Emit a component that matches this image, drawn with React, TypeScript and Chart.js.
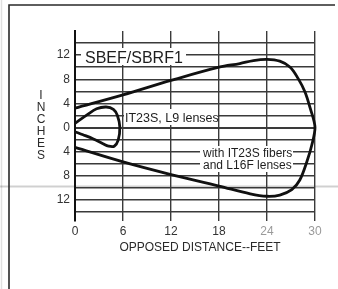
import React, { useEffect, useRef } from 'react';
import { Chart, registerables } from 'chart.js';

Chart.register(...registerables);

// Tick values
const distanceTicks = [0, 6, 12, 18, 24, 30];
const inchGrid = [-14, -12, -10, -8, -6, -4, -2, 0, 2, 4, 6, 8, 10, 12, 14];
const inchLabelled = [-12, -8, -4, 0, 4, 8, 12];

// Texts
const chartTitle = 'SBEF/SBRF1';
const xTitle = 'OPPOSED DISTANCE--FEET';
const yTitle = 'INCHES';
const innerLabel = 'IT23S, L9 lenses';
const outerLabel = ['with IT23S fibers', 'and L16F lenses'];

// Series: "with IT23S fibers and L16F lenses" (feet, inches)
const outerX = [0, 6, 12, 18, 20.6, 22.3, 24, 25.6, 26.9, 27.9, 28.75, 29.4, 30, 29.6, 29.0, 28.1, 27.1, 25.6, 24, 21.9, 18, 12, 6, 0];
const outerY = [3.2, 5.4, 7.8, 10.0, 10.6, 11.1, 11.3, 11.0, 10.0, 8.1, 5.9, 3.2, 0, -2.9, -5.6, -8.7, -10.3, -11.2, -11.4, -11.0, -9.7, -7.8, -5.7, -3.3];

// Series: "IT23S, L9 lenses"
const innerX = [0, 1.5, 2.7, 3.9, 4.8, 5.3, 5.6, 5.4, 4.9, 4.2, 3.5, 2.3, 1.0, 0];
const innerY = [0.7, 2.1, 3.1, 3.4, 3.0, 2.0, 0.1, -2.1, -3.1, -3.1, -2.7, -1.9, -1.2, -0.7];

const FONT = '"Liberation Sans", Arial, Helvetica, sans-serif';

export default function App() {
  const ref = useRef<HTMLCanvasElement | null>(null);

  useEffect(() => {
    const canvas = ref.current;
    if (!canvas) return;

    const decor = {
      id: 'decor',
      beforeDraw(chart: any) {
        const ctx = chart.ctx;
        ctx.save();
        ctx.fillStyle = '#ffffff';
        ctx.fillRect(0, 0, chart.width, chart.height);
        // faint scan band
        ctx.strokeStyle = 'rgba(150,150,150,0.45)';
        ctx.lineWidth = 2;
        ctx.beginPath();
        ctx.moveTo(0, 186.5);
        ctx.lineTo(chart.width, 186.5);
        ctx.stroke();
        ctx.strokeStyle = 'rgba(0,0,0,0.12)';
        ctx.lineWidth = 1.5;
        ctx.beginPath();
        ctx.moveTo(1.5, 0);
        ctx.lineTo(1.5, chart.height);
        ctx.stroke();
        // frame
        ctx.strokeStyle = '#2a2a2a';
        ctx.lineWidth = 1.6;
        ctx.beginPath();
        ctx.moveTo(9, chart.height);
        ctx.lineTo(9, 5);
        ctx.lineTo(335, 5);
        ctx.stroke();
        ctx.restore();
      },
      beforeDatasetsDraw(chart: any) {
        const ctx = chart.ctx;
        ctx.save();
        ctx.fillStyle = '#ffffff';
        ctx.fillRect(81, 48, 105, 17);
        ctx.fillRect(124, 109, 94, 16);
        ctx.fillRect(200, 146, 93, 26);
        ctx.fillStyle = '#1e1e1e';
        ctx.textBaseline = 'middle';
        ctx.textAlign = 'left';
        ctx.font = `16px ${FONT}`;
        ctx.fillText(chartTitle, 85, 58.5);
        ctx.font = `12.5px ${FONT}`;
        ctx.fillText(innerLabel, 125, 119);
        ctx.font = `12px ${FONT}`;
        ctx.fillText(outerLabel[0], 203, 154);
        ctx.fillText(outerLabel[1], 203, 166);
        ctx.restore();
      },
      afterDraw(chart: any) {
        const ctx = chart.ctx;
        ctx.save();
        ctx.fillStyle = '#2a2a2a';
        ctx.textBaseline = 'middle';
        ctx.textAlign = 'center';
        ctx.font = `12px ${FONT}`;
        ctx.fillText(xTitle, 200, 248);
        yTitle.split('').forEach((ch, i) => {
          ctx.fillText(ch, 41, 95.5 + i * 12);
        });
        ctx.restore();
      },
    };

    const lineStyle = {
      showLine: true,
      borderColor: '#111111',
      borderWidth: 2.8,
      pointRadius: 0,
      pointHoverRadius: 0,
      tension: 0.35,
      fill: false,
      clip: 8,
    };

    const chart = new Chart(canvas, {
      type: 'scatter',
      data: {
        datasets: [
          { label: outerLabel.join(' '), data: outerX.map((x, i) => ({ x, y: outerY[i] })), ...lineStyle },
          { label: innerLabel, data: innerX.map((x, i) => ({ x, y: innerY[i] })), ...lineStyle },
        ],
      },
      options: {
        responsive: false,
        animation: false,
        devicePixelRatio: 1,
        layout: { padding: { top: 31, right: 23, left: 0, bottom: 0 } },
        plugins: { legend: { display: false }, tooltip: { enabled: false } },
        scales: {
          x: {
            type: 'linear',
            min: 0,
            max: 30,
            afterBuildTicks: (s: any) => {
              s.ticks = distanceTicks.map((v) => ({ value: v }));
            },
            afterFit: (s: any) => {
              s.height = 68;
            },
            grid: { color: '#3a3a3a', lineWidth: 1.4, drawTicks: false },
            border: { display: false },
            ticks: {
              autoSkip: false,
              maxRotation: 0,
              padding: 3,
              font: { family: FONT, size: 12 },
              color: (c: any) => (c.tick && c.tick.value >= 24 ? '#9a9a9a' : '#333333'),
              callback: (v: any) => String(v),
            },
          },
          y: {
            type: 'linear',
            min: -15.5,
            max: 16,
            afterBuildTicks: (s: any) => {
              s.ticks = inchGrid.map((v) => ({ value: v }));
            },
            afterFit: (s: any) => {
              s.width = 75;
            },
            grid: {
              color: '#3a3a3a',
              lineWidth: (c: any) => (c.tick && c.tick.value === 0 ? 2 : 1.4),
              drawTicks: false,
            },
            border: { display: true, color: '#111111', width: 2 },
            ticks: {
              autoSkip: false,
              padding: 5,
              font: { family: FONT, size: 12 },
              color: '#333333',
              callback: (v: any) => (inchLabelled.includes(v) ? String(Math.abs(v)) : ''),
            },
          },
        },
      },
      plugins: [decor],
    } as any);

    return () => chart.destroy();
  }, []);

  return (
    <div style={{ position: 'fixed', left: 0, top: 0, width: 338, height: 289, background: '#fff' }}>
      <canvas ref={ref} width={338} height={289} style={{ display: 'block', width: 338, height: 289 }} />
    </div>
  );
}
